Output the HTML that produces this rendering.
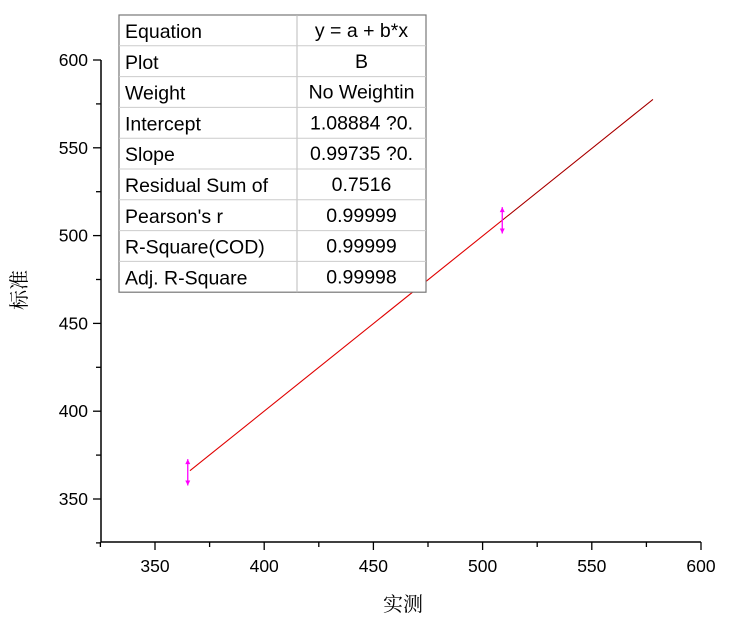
<!DOCTYPE html>
<html><head><meta charset="utf-8"><style>
body{margin:0;background:#fff;width:729px;height:621px;overflow:hidden}
svg text{font-family:"Liberation Sans",Arial,sans-serif}
</style></head><body>
<svg width="729" height="621">
<g id="axes"></g>
<g id="marks"></g>
<text x="403" y="611" text-anchor="middle" font-size="20" style="font-family:'Liberation Serif','Noto Serif CJK SC',serif">实测</text>
<text transform="translate(26,290) rotate(-90)" text-anchor="middle" font-size="20" style="font-family:'Liberation Serif','Noto Serif CJK SC',serif">标准</text>
<g id="table"></g>
</svg>
<script>
const xTicks=[350,400,450,500,550,600];
const yTicks=[350,400,450,500,550,600];
const pointX=[365,509];
const pointY=[365.2,508.7];
const errY=[7.5,7.5];
const intercept=1.08884, slope=0.99735;
const fitRange=[366,578];
const rowLabels=["Equation","Plot","Weight","Intercept","Slope","Residual Sum of","Pearson's r","R-Square(COD)","Adj. R-Square"];
const rowValues=["y = a + b*x","B","No Weightin","1.08884 ?0.","0.99735 ?0.","0.7516","0.99999","0.99999","0.99998"];

const NS="http://www.w3.org/2000/svg";
const X=v=>155+(v-350)*(701-155)/250;
const Y=v=>499-(v-350)*(499-60)/250;
function mk(p,t,a){const e=document.createElementNS(NS,t);for(const k in a)e.setAttribute(k,a[k]);p.appendChild(e);return e;}
const ax=document.getElementById('axes');
const xa=mk(ax,'line',{x1:101,y1:542,x2:701,y2:542,stroke:'#000','stroke-width':1.5});


const ya=mk(ax,'line',{x1:101,y1:60,x2:101,y2:542,stroke:'#000','stroke-width':1.5});


xTicks.forEach(v=>{
 mk(ax,'line',{x1:X(v),y1:542,x2:X(v),y2:550,stroke:'#000','stroke-width':1.3});
 mk(ax,'line',{x1:X(v-25),y1:542,x2:X(v-25),y2:547,stroke:'#000','stroke-width':1.3});
 const t=mk(ax,'text',{x:X(v),y:572,'text-anchor':'middle','font-size':17.5});t.textContent=v;
 
 
});
yTicks.forEach(v=>{
 mk(ax,'line',{x1:93,y1:Y(v),x2:101,y2:Y(v),stroke:'#000','stroke-width':1.3});
 mk(ax,'line',{x1:96,y1:Y(v-25),x2:101,y2:Y(v-25),stroke:'#000','stroke-width':1.3});
 const t=mk(ax,'text',{x:88,y:Y(v)+6,'text-anchor':'end','font-size':17.5});t.textContent=v;
 
 
});
const m=document.getElementById('marks');
const fl=mk(m,'line',{x1:X(fitRange[0]),y1:Y(intercept+slope*fitRange[0]),x2:X(fitRange[1]),y2:Y(intercept+slope*fitRange[1]),stroke:'#e00000','stroke-width':1.1});


const dl=mk(m,'line',{x1:X(pointX[1]),y1:Y(pointY[1]),x2:X(fitRange[1]),y2:Y(intercept+slope*fitRange[1]),stroke:'#400','stroke-width':0.6,opacity:0.6});


pointX.forEach((v,i)=>{
 const g=mk(m,'g',{});
 
 
 const x=X(v),y1=Y(pointY[i]+errY[i]),y2=Y(pointY[i]-errY[i]);
 mk(g,'line',{x1:x,y1:y1,x2:x,y2:y2,stroke:'#ff00ff','stroke-width':1.3});
 mk(g,'path',{d:`M${x-2.5},${y1+5}L${x},${y1}L${x+2.5},${y1+5}Z M${x-2.5},${y2-5}L${x},${y2}L${x+2.5},${y2-5}Z`,fill:'#ff00ff'});
});
const tb=document.getElementById('table');
const tx0=119,tx1=297,tx2=426,ty0=15,rh=30.8;
mk(tb,'rect',{x:tx0,y:ty0,width:tx2-tx0,height:rh*9,fill:'#fff',stroke:'#777','stroke-width':1.2});
mk(tb,'line',{x1:tx1,y1:ty0,x2:tx1,y2:ty0+rh*9,stroke:'#bbb'});
rowLabels.forEach((l,i)=>{
 if(i>0)mk(tb,'line',{x1:tx0,y1:ty0+rh*i,x2:tx2,y2:ty0+rh*i,stroke:'#ccc'});
 const a=mk(tb,'text',{x:tx0+6,y:ty0+rh*i+23,'font-size':19.5});a.textContent=l;
 
 
 const b=mk(tb,'text',{x:(tx1+tx2)/2,y:ty0+rh*i+22,'font-size':19.5,'text-anchor':'middle'});b.textContent=rowValues[i];
 
 
});
</script>
</body></html>
